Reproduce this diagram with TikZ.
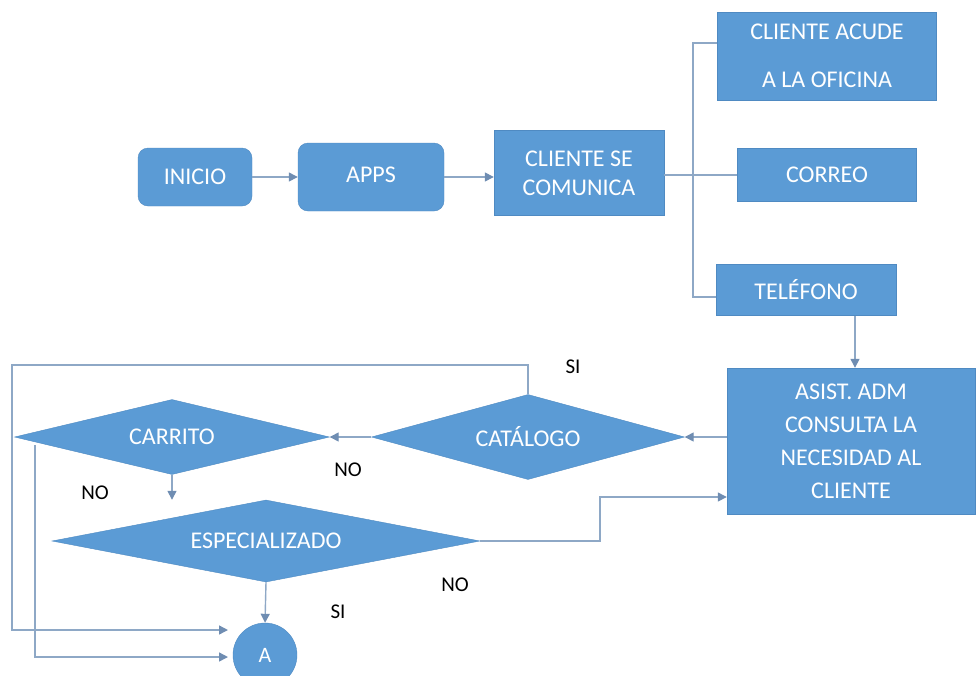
\documentclass[tikz,border=0pt]{standalone}
\usepackage{xcolor}
\usepackage{fontspec}
\setmainfont{Carlito}
\usetikzlibrary{shapes.geometric,arrows.meta}

\definecolor{flowblue}{HTML}{5B9BD5}
\definecolor{flowedge}{HTML}{4F8AC2}
\definecolor{flowline}{HTML}{8EA8C6}
\definecolor{tipgray}{HTML}{6F8DB2}

\tikzset{
	procbox/.style={rectangle, draw=flowedge, fill=flowblue, text=white, align=center, inner sep=0pt, font=\fontsize{24}{29}\selectfont},
	roundbox/.style={procbox, rounded corners=10pt},
	decision/.style={diamond, aspect=4, draw=flowedge, fill=flowblue, text=white, inner sep=0pt, font=\fontsize{24}{29}\selectfont},
	flow/.style={draw=flowline, line width=1.4pt},
	arr/.style={flow, -{Triangle[length=9pt,width=9pt,color=tipgray]}},
	answer/.style={font=\fontsize{21}{24}\selectfont, text=black}
}

\begin{document}
\begin{tikzpicture}[x=1pt, y=-1pt]
	\useasboundingbox (0,0) rectangle (977,675);

	% Nodes
	\node[roundbox, minimum width=114pt, minimum height=58pt] (inicio) at (195,177) {INICIO};
	\node[roundbox, minimum width=146pt, minimum height=68pt] (apps) at (371,177) {\raisebox{5pt}{APPS}};
	\node[procbox, minimum width=170pt, minimum height=85pt] (comunica) at (579,173) {CLIENTE SE\\COMUNICA};
	\node[procbox, minimum width=219pt, minimum height=88pt] (oficina) at (827,56) {CLIENTE ACUDE\\[19pt]A LA OFICINA};
	\node[procbox, minimum width=179pt, minimum height=53pt] (correo) at (827,175) {CORREO};
	\node[procbox, minimum width=180pt, minimum height=51pt] (telefono) at (806,290) {TELÉFONO};
	\node[procbox, minimum width=248pt, minimum height=146pt, font=\fontsize{24}{33}\selectfont] (asist) at (851,441) {ASIST. ADM\\CONSULTA LA\\NECESIDAD AL\\CLIENTE};
	\node[decision, minimum width=313pt, minimum height=85pt] (catalogo) at (528,437) {CATÁLOGO};
	\node[decision, minimum width=315pt, minimum height=75pt] (carrito) at (172,437) {CARRITO};
	\node[decision, minimum width=428pt, minimum height=82pt] (especial) at (266,541) {ESPECIALIZADO};
	\node[circle, draw=flowedge, fill=flowblue, text=white, minimum size=64pt, inner sep=0pt, font=\fontsize{22}{26}\selectfont] (a) at (265,655) {A};

	% corners of the lines
	\coordinate (jtop) at (693,43);
	\coordinate (jbot) at (693,297);
	\coordinate (loopa) at (12,365);
	\coordinate (loopb) at (35,445);
	\coordinate (ina) at (228,630);
	\coordinate (inb) at (228,657);
	\coordinate (bend) at (600,497);

	% Edges
	\draw[arr] (inicio) -- (apps);
	\draw[arr] (apps.east) -- (apps.east -| comunica.west);
	\draw[flow] (comunica.east |- correo.west) -- (correo.west);
	\draw[flow] (oficina.west |- jtop) -- (jtop) -- (jbot) -- (jbot -| telefono.west);
	\draw[arr] ([xshift=49pt]telefono.south) -- ([xshift=49pt]telefono.south |- asist.north);
	\draw[arr] (asist.west |- catalogo.east) -- (catalogo.east);
	\draw[arr] (catalogo.west) -- (carrito.east);
	\draw[arr] (catalogo.north) |- (loopa) |- (ina);
	\draw[arr] (loopb) |- (inb);
	\draw[arr] (carrito.south) -- (carrito.south |- especial.north);
	\draw[arr] (especial.east) -| (bend) -- (bend -| asist.west);
	\draw[arr] (especial.south) -- (a.north);

	% answers
	\node[answer] (sitop) at (573,367) {SI};
	\node[answer] (nomid) at (348,470) {NO};
	\node[answer] (noleft) at (95,493) {NO};
	\node[answer] (nolow) at (455,585) {NO};
	\node[answer] (silow) at (338,612) {SI};

\end{tikzpicture}
\end{document}
